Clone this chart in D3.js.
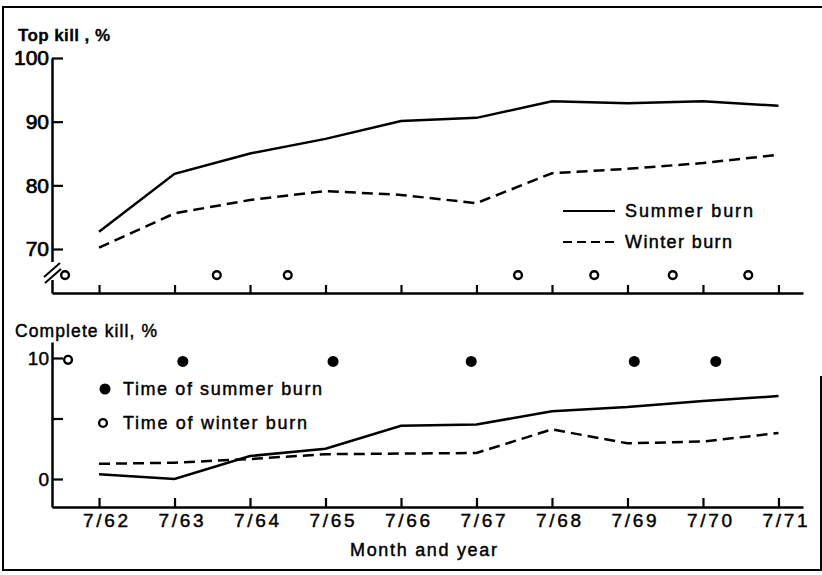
<!DOCTYPE html>
<html><head><meta charset="utf-8">
<script src="https://cdn.jsdelivr.net/npm/d3@7"></script>
<style>
body{margin:0;background:#fff}
svg{display:block}
text{font-family:"Liberation Sans",Arial,sans-serif;fill:#000;stroke:#000;stroke-width:0.45px}
</style>
</head><body>
<svg id="c" width="822" height="575"></svg>
<script>
// ---- data ----
const months = ["7/62","7/63","7/64","7/65","7/66","7/67","7/68","7/69","7/70","7/71"];
const monthTimes = [1962.5,1963.5,1964.5,1965.5,1966.5,1967.5,1968.5,1969.5,1970.5,1971.5];
const topSummer = [72.7,81.8,85.0,87.3,90.1,90.6,93.2,92.9,93.2,92.5];
const topWinter = [70.2,75.6,77.7,79.1,78.5,77.2,81.9,82.6,83.5,84.8];
const completeSummer = [0.4,0.0,1.9,2.5,4.4,4.5,5.6,5.95,6.45,6.85];
const completeWinter = [1.25,1.35,1.65,2.05,2.1,2.15,4.1,2.95,3.1,3.8];
const winterBurnTop = [1962.05,1964.06,1965.0,1968.05,1969.06,1970.1,1971.1];
const winterBurnBottom = [1962.09];
const summerBurnTimes = [1963.61,1965.6,1967.43,1969.59,1970.67];
const topYTicks = [70,80,90,100];
const bottomYTicks = [0,5,10];
const topMarkerLevel = 65.9, bottomOpenLevel = 9.85, bottomFilledLevel = 9.72;

const svg = d3.select("#c");

// frame
svg.append("path")
  .attr("d","M821,376V570H3V7H822")
  .attr("fill","none").attr("stroke","#000").attr("stroke-width",2);

// scales
const x = d3.scaleLinear().domain([1961.877, 1971.825]).range([52, 803]);
const yTop = d3.scaleLinear().domain([63.09, 100]).range([293, 58]);
const yBot = d3.scaleLinear().domain([-2.314, 11.322]).range([507, 342]);

function styleAxis(g){
  g.select(".domain").attr("stroke","#000").attr("stroke-width",2.5);
  g.selectAll(".tick line").attr("stroke","#000").attr("stroke-width",2.2);
}

// top x axis
svg.append("g").attr("transform","translate(0,293)")
  .call(d3.axisBottom(x).tickValues(monthTimes).tickFormat("").tickSizeInner(-8).tickSizeOuter(0))
  .call(styleAxis);

// bottom x axis
const xb = svg.append("g").attr("transform","translate(0,507)")
  .call(d3.axisBottom(x).tickValues(monthTimes).tickFormat((d,i)=>months[i]).tickSizeInner(-9).tickSizeOuter(0).tickPadding(7))
  .call(styleAxis);
xb.selectAll(".tick text")
  .attr("font-family","Liberation Sans, Arial, sans-serif")
  .attr("font-size",19).attr("x",6)
  .attr("textLength",45).attr("lengthAdjust","spacing");

// top y axis
const yt = svg.append("g").attr("transform","translate(52,0)")
  .call(d3.axisLeft(yTop).tickValues(topYTicks).tickSizeInner(-11).tickSizeOuter(0).tickPadding(3))
  .call(styleAxis);
yt.selectAll(".tick text")
  .attr("font-family","Liberation Sans, Arial, sans-serif")
  .attr("font-size",21).style("stroke-width","0.7px");

// axis break
svg.append("rect").attr("x",48).attr("y",262).attr("width",9).attr("height",18).attr("fill","#fff");
svg.append("path").attr("d","M44,277L60,263M45,283L61,269")
  .attr("stroke","#000").attr("stroke-width",2).attr("fill","none");

// bottom y axis
const yb = svg.append("g").attr("transform","translate(52,0)")
  .call(d3.axisLeft(yBot).tickValues(bottomYTicks).tickFormat(d=>d===5?"":d).tickSizeInner(-11).tickSizeOuter(0).tickPadding(3))
  .call(styleAxis);
yb.selectAll(".tick text")
  .attr("font-family","Liberation Sans, Arial, sans-serif")
  .attr("font-size",19);

// lines
const lineTop = d3.line().x((d,i)=>x(monthTimes[i])).y(d=>yTop(d));
const lineBot = d3.line().x((d,i)=>x(monthTimes[i])).y(d=>yBot(d));
function addLine(data, gen, dashed){
  svg.append("path").datum(data).attr("d",gen)
    .attr("fill","none").attr("stroke","#000").attr("stroke-width",2.5)
    .attr("stroke-dasharray", dashed ? "11,6" : null);
}
addLine(topSummer, lineTop, false);
addLine(topWinter, lineTop, true);
addLine(completeSummer, lineBot, false);
addLine(completeWinter, lineBot, true);

// burn markers
svg.selectAll(".wt").data(winterBurnTop).enter().append("circle")
  .attr("cx",d=>x(d)).attr("cy",yTop(topMarkerLevel)).attr("r",3.9)
  .attr("fill","#fff").attr("stroke","#000").attr("stroke-width",2.4);
svg.selectAll(".wb").data(winterBurnBottom).enter().append("circle")
  .attr("cx",d=>x(d)).attr("cy",yBot(bottomOpenLevel)).attr("r",3.9)
  .attr("fill","#fff").attr("stroke","#000").attr("stroke-width",2.4);
svg.selectAll(".sb").data(summerBurnTimes).enter().append("circle")
  .attr("cx",d=>x(d)).attr("cy",yBot(bottomFilledLevel)).attr("r",5.5)
  .attr("fill","#000");

// titles
function txt(s, xx, yy, size, len, weight){
  const t = svg.append("text").attr("x",xx).attr("y",yy).attr("font-size",size).text(s);
  if(weight) t.attr("font-weight",weight).style("stroke-width","0.3px");
  if(len) t.attr("textLength",len).attr("lengthAdjust","spacing");
  return t;
}
txt("Top kill , %", 18, 41, 17, 92, "bold");
txt("Complete kill, %", 15, 337, 17.5, 142);
txt("Month and year", 350, 556, 18, 147);

// top legend
svg.append("line").attr("x1",563).attr("x2",615).attr("y1",211).attr("y2",211)
  .attr("stroke","#000").attr("stroke-width",2);
svg.append("line").attr("x1",563).attr("x2",615).attr("y1",242).attr("y2",242)
  .attr("stroke","#000").attr("stroke-width",2).attr("stroke-dasharray","9,5");
txt("Summer burn", 625, 217, 18, 128);
txt("Winter burn", 625, 248, 18, 107);

// bottom legend
svg.append("circle").attr("cx",105).attr("cy",389).attr("r",5.5).attr("fill","#000");
svg.append("circle").attr("cx",103).attr("cy",423).attr("r",3.9)
  .attr("fill","#fff").attr("stroke","#000").attr("stroke-width",2.4);
txt("Time of summer burn", 123, 395, 18, 199);
txt("Time of winter burn", 123, 429, 18, 184);
</script>
</body></html>
